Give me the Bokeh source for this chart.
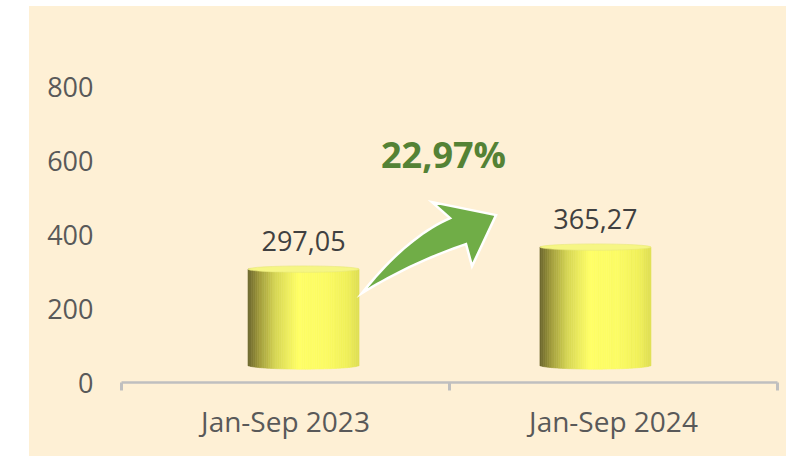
import numpy as np
from bokeh.plotting import figure
from bokeh.models import FixedTicker, Range1d, Spacer
from bokeh.layouts import row, column
from bokeh.core.properties import value
from bokeh.embed import file_html
from bokeh.resources import INLINE

# ---- data ----
categories = ["Jan-Sep 2023", "Jan-Sep 2024"]
values = [297.05, 365.27]
value_labels = ["297,05", "365,27"]
y_ticks = [0, 200, 400, 600, 800]
cat_centers = [0.5, 1.5]

growth = (values[1] / values[0] - 1) * 100
growth_label = f"{growth:.2f}".replace(".", ",") + "%"

# ---- style ----
CREAM = "#FEF0D5"
TEXT = "#595959"
GRID_GRAY = "#BFBFBF"
FONT = "Open Sans"
W, H = 757, 450
PX_X = 328.0      # px per category unit
PX_Y = 0.369      # px per value unit

# 3D look: perspective squeeze toward middle, raised floor
persp = 0.89
base = 47.0
k = 0.876
cyl_w = 111 / PX_X
eh = 4.0 / PX_Y

p = figure(width=W, height=H, output_backend="svg", toolbar_location=None,
           x_range=Range1d(0, 2), y_range=Range1d(0, 352 / PX_Y),
           min_border_left=92, min_border_right=9, min_border_top=24, min_border_bottom=74)
p.background_fill_color = CREAM
p.border_fill_color = CREAM
p.outline_line_color = None
p.grid.visible = False
p.styles = {"background-color": CREAM}

# x axis
xa = p.xaxis[0]
xa.ticker = FixedTicker(ticks=cat_centers, minor_ticks=[0, 1, 2])
xa.major_label_overrides = {c: n for c, n in zip(cat_centers, categories)}
xa.axis_line_color = GRID_GRAY
xa.axis_line_width = 2.5
xa.major_tick_line_color = None
xa.major_tick_in = 0
xa.major_tick_out = 0
xa.minor_tick_line_color = GRID_GRAY
xa.minor_tick_line_width = 3
xa.minor_tick_in = 0
xa.minor_tick_out = 8
xa.major_label_standoff = 11
xa.major_label_text_font = FONT
xa.major_label_text_font_size = "28px"
xa.major_label_text_color = TEXT

# y axis
ya = p.yaxis[0]
ya.ticker = FixedTicker(ticks=y_ticks)
ya.axis_line_color = None
ya.major_tick_line_color = None
ya.minor_tick_line_color = None
ya.major_tick_in = 0
ya.major_tick_out = 0
ya.major_label_standoff = 28
ya.major_label_text_font = FONT
ya.major_label_text_font_size = "27px"
ya.major_label_text_color = TEXT

# ---- cylinders (strips for the shaded gradient) ----
stops_u = np.array([0.0, 0.1, 0.25, 0.45, 0.7, 0.9, 1.0])
stops_c = np.array([
    [105, 100, 45], [160, 155, 60], [215, 215, 85], [255, 255, 102],
    [252, 252, 100], [240, 240, 90], [222, 222, 84]], dtype=float)

def grad(u):
    return "#%02x%02x%02x" % tuple(int(round(np.interp(u, stops_u, stops_c[:, j]))) for j in range(3))

n = 60
cx = [1 + (c - 1) * persp for c in cat_centers]
tops = [base + k * v for v in values]
L, R, B, T, C = [], [], [], [], []
for c, t in zip(cx, tops):
    x0 = c - cyl_w / 2
    for i in range(n):
        u = (i + 0.5) / n
        L.append(x0 + i * cyl_w / n)
        R.append(x0 + (i + 1) * cyl_w / n)
        B.append(base - eh * np.sqrt(max(0.0, 1 - (2 * u - 1) ** 2)))
        T.append(t)
        C.append(grad(u))
p.quad(left=L, right=R, bottom=B, top=T, fill_color=C, line_color=C, line_width=0.6)
p.ellipse(x=cx, y=tops, width=cyl_w, height=1.6 * eh, fill_color="#F6F684",
          line_color="#E8E87A", line_width=0.6)

# value labels
p.text(x=cx, y=tops, text=value_labels, y_offset=-28, text_align="center",
       text_baseline="middle", text_font=value(FONT), text_font_size="27px",
       text_color="#404040")

# ---- growth arrow (shape in px offsets, anchored on first cylinder) ----
ax0 = cx[0] + cyl_w / 2 + 3 / PX_X
ay0 = tops[0] - 24 / PX_Y

def qbez(p0, c, p2, m=20):
    t = np.linspace(0, 1, m)[:, None]
    p0, c, p2 = map(np.array, (p0, c, p2))
    return (1 - t) ** 2 * p0 + 2 * (1 - t) * t * c + t ** 2 * p2

upper = qbez((0, 0), (44, -55.5), (88, -75))
head = np.array([(70, -91), (134, -78), (110, -27), (104, -49)], dtype=float)
lower = qbez((104, -49), (48, -30), (0, 0))
pts = np.vstack([upper, head, lower[1:]])
arr_x = ax0 + pts[:, 0] / PX_X
arr_y = ay0 - pts[:, 1] / PX_Y
p.patch(arr_x, arr_y, fill_color="#70AD47", line_color="white", line_width=2.5,
        line_join="miter")

# growth label
p.text(x=[1 - 6 / PX_X], y=[tops[1]], text=[growth_label], y_offset=-93,
       text_align="center", text_baseline="middle", text_font=value(FONT),
       text_font_size="36px", text_font_style="bold", text_color="#548235")

layout = column(Spacer(width=W + 29, height=6), row(Spacer(width=29, height=H), p))
open("out.html", "w").write(file_html(layout, INLINE))
